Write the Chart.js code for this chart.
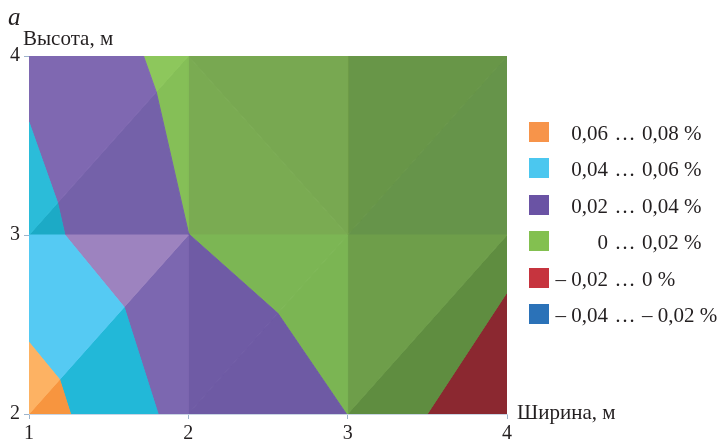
<!DOCTYPE html>
<html lang="ru">
<head>
<meta charset="utf-8">
<script src="https://cdn.jsdelivr.net/npm/chart.js@4.4.1/dist/chart.umd.min.js"></script>
<style>
  html, body { margin: 0; padding: 0; background: #fff; }
  #wrap { position: relative; width: 721px; height: 444px; overflow: hidden;
          font-family: "Liberation Serif", "Times New Roman", serif; color: #231f20; }
  #c { position: absolute; left: 0; top: 0; }
  .lbl { position: absolute; white-space: nowrap; font-size: 21px; line-height: 21px; }
  .sw { position: absolute; width: 20px; height: 20px; }
</style>
</head>
<body>
<div id="wrap">
  <canvas id="c" width="721" height="444"></canvas>
  <div class="lbl" style="left:8px; top:4px; font-size:25px; line-height:25px; font-style:italic;">а</div>
  <div class="lbl" style="left:23px; top:28px;">Высота, м</div>
  <div class="lbl" style="left:517px; top:402px;">Ширина, м</div>
  <div id="legend"></div>
</div>
<script>
// Grid of measured strain values (%), rows by height, columns by width
const widthM  = [1, 2, 3, 4];
const heightM = [2, 3, 4];
const strainAt2m = [0.0695, 0.0331, 0.0199, -0.0199];
const strainAt3m = [0.0458, 0.0201, 0.0098, 0.0094];
const strainAt4m = [0.0366, 0.0135, 0.0110, 0.0080];

// Contour bands
const bandLow  = [0.06, 0.04, 0.02, 0, -0.02, -0.04];
const bandHigh = [0.08, 0.06, 0.04, 0.02, 0, -0.02];
const bandFrom = ['0,06', '0,04', '0,02', '0', '– 0,02', '– 0,04'];
const bandTo   = ['0,08 %', '0,06 %', '0,04 %', '0,02 %', '0 %', '– 0,02 %'];

// Styling
const bandColor = ['#f7944a', '#4bc7ef', '#6a53a4', '#83c050', '#c6343e', '#2b72b8'];
// Each grid cell is split into two triangles along a diagonal; surface shading per triangle
const cellSplit = [['/', '/', '/'], ['/', '\\', '/']];
const cellShade = [
  [ // lower row (2–3 m)
    [['#fdb263', '#55caf3', '#9d83bf', '#8cc65b', null, null], ['#f7953f', '#22b8d8', '#7c67b0', '#7db655', null, null]],
    [[null, null, '#6f5ba5', '#7cb654', null, null], [null, null, '#6e5aa4', '#7bb553', null, null]],
    [[null, null, null, '#6e9e4a', null, null], [null, null, null, '#5f8d40', '#8b2830', null]]
  ],
  [ // upper row (3–4 m)
    [[null, '#2bbcd9', '#7f68b1', '#8dc75c', null, null], [null, '#1caac6', '#7461a9', '#85bf57', null, null]],
    [[null, null, '#6f5ba5', '#7aab52', null, null], [null, null, null, '#78a851', null, null]],
    [[null, null, null, '#689648', null, null], [null, null, null, '#66944a', null, null]]
  ]
];

const strainRows = [strainAt2m, strainAt3m, strainAt4m];
const node = (i, j) => ({ x: widthM[i], y: heightM[j], z: strainRows[j][i] });

// Clip a polygon against a linear half-space on z (Sutherland–Hodgman)
function clipBy(poly, keep) {
  const out = [];
  for (let k = 0; k < poly.length; k++) {
    const a = poly[k], b = poly[(k + 1) % poly.length];
    const fa = keep(a), fb = keep(b);
    if (fa >= 0) out.push(a);
    if ((fa >= 0) !== (fb >= 0)) {
      const t = fa / (fa - fb);
      out.push({ x: a.x + t * (b.x - a.x), y: a.y + t * (b.y - a.y), z: a.z + t * (b.z - a.z) });
    }
  }
  return out;
}
function area(poly) {
  let s = 0;
  for (let k = 0; k < poly.length; k++) {
    const a = poly[k], b = poly[(k + 1) % poly.length];
    s += a.x * b.y - b.x * a.y;
  }
  return Math.abs(s) / 2;
}

const datasets = [];
for (let j = 0; j < heightM.length - 1; j++) {
  for (let i = 0; i < widthM.length - 1; i++) {
    const p00 = node(i, j), p10 = node(i + 1, j), p01 = node(i, j + 1), p11 = node(i + 1, j + 1);
    const tris = cellSplit[j][i] === '/'
      ? [[p00, p01, p11], [p00, p10, p11]]
      : [[p00, p01, p10], [p01, p11, p10]];
    tris.forEach((tri, t) => {
      bandLow.forEach((lo, b) => {
        const hi = bandHigh[b];
        let poly = clipBy(tri, p => p.z - lo);
        if (poly.length >= 3) poly = clipBy(poly, p => hi - p.z);
        if (poly.length < 3 || area(poly) < 1e-6) return;
        const col = cellShade[j][i][t][b] || bandColor[b];
        const pts = poly.map(p => ({ x: p.x, y: p.y }));
        pts.push({ x: pts[0].x, y: pts[0].y });
        datasets.push({
          data: pts, showLine: true, fill: 'shape', tension: 0,
          backgroundColor: col, borderColor: col, borderWidth: 1,
          pointRadius: 0, pointHoverRadius: 0
        });
      });
    });
  }
}

const tickFont = { family: '"Liberation Serif", "Times New Roman", serif', size: 20 };
new Chart(document.getElementById('c'), {
  type: 'scatter',
  data: { datasets },
  options: {
    responsive: false, animation: false, devicePixelRatio: 1,
    layout: { padding: { top: 56, right: 214, left: 0, bottom: 0 } },
    plugins: { legend: { display: false }, tooltip: { enabled: false } },
    scales: {
      x: {
        type: 'linear', min: widthM[0], max: widthM[widthM.length - 1],
        ticks: { stepSize: 1, font: tickFont, color: '#231f20', padding: 3, maxRotation: 0 },
        grid: { drawOnChartArea: false, drawTicks: true, tickLength: 5, color: '#9db4cc' },
        border: { display: true, color: '#c9d5e4' },
        afterFit(s) { s.height = 30; }
      },
      y: {
        type: 'linear', min: heightM[0], max: heightM[heightM.length - 1],
        ticks: { stepSize: 1, font: tickFont, color: '#231f20', padding: 4 },
        grid: { drawOnChartArea: false, drawTicks: true, tickLength: 5, color: '#9db4cc' },
        border: { display: true, color: '#c9d5e4' },
        afterFit(s) { s.width = 29; }
      }
    }
  }
});

// Legend of contour bands
const legend = document.getElementById('legend');
bandFrom.forEach((from, b) => {
  const top = 122 + 36.4 * b;
  const sw = document.createElement('div');
  sw.className = 'sw';
  sw.style.left = '529px'; sw.style.top = top + 'px'; sw.style.background = bandColor[b];
  legend.appendChild(sw);
  const l = document.createElement('div');
  l.className = 'lbl'; l.textContent = from;
  l.style.right = (721 - 608) + 'px'; l.style.top = (top + 1) + 'px'; l.style.textAlign = 'right';
  legend.appendChild(l);
  const e = document.createElement('div');
  e.className = 'lbl'; e.textContent = '…';
  e.style.left = '608px'; e.style.width = '34px'; e.style.textAlign = 'center'; e.style.top = (top + 1) + 'px';
  legend.appendChild(e);
  const r = document.createElement('div');
  r.className = 'lbl'; r.textContent = bandTo[b];
  r.style.left = '642px'; r.style.top = (top + 1) + 'px';
  legend.appendChild(r);
});
</script>
</body>
</html>
